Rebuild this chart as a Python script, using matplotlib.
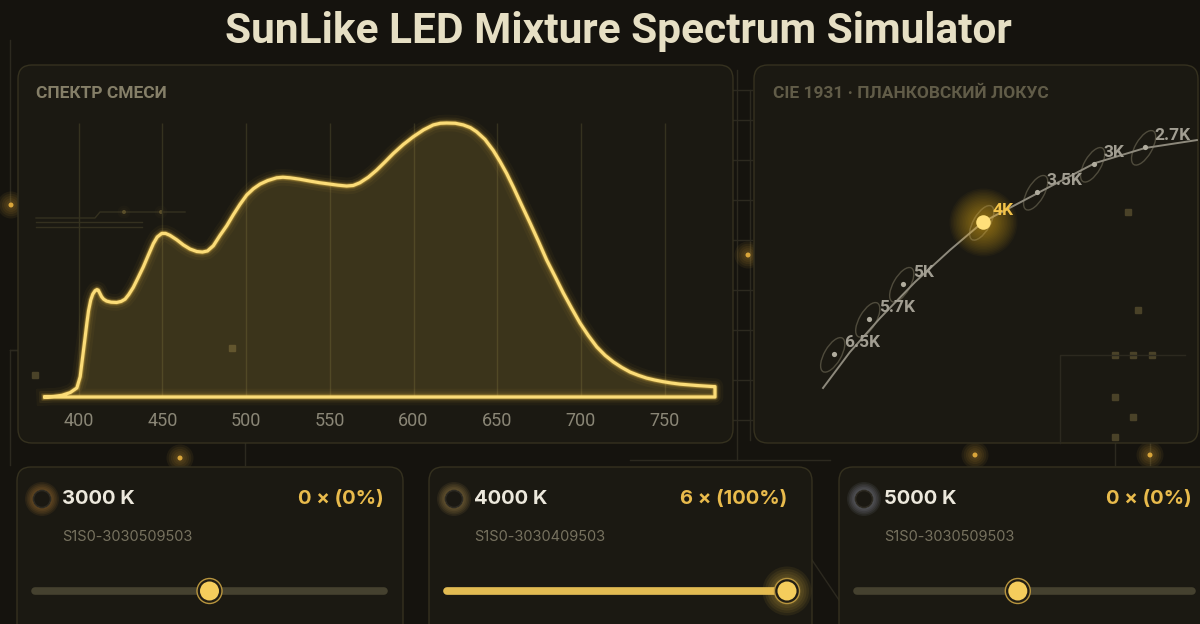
import numpy as np
import matplotlib.pyplot as plt
from matplotlib.patches import FancyBboxPatch, Circle, Ellipse

# mixed spectrum, relative intensity
wavelength = [380, 385, 390, 395, 399, 401, 402.5, 404, 405, 406, 407.3, 408.5, 409.9, 411,
              411.8, 412.8, 413.8, 415, 416.8, 419.5, 422.8, 425.5, 427.8, 430, 432.7, 435.7,
              438.7, 441.7, 444.7, 447, 449.7, 452, 454.6, 458.6, 462.6, 466.6, 470.6, 474,
              477, 480.5, 484.5, 488.5, 492.4, 496.4, 500.4, 504.4, 508.4, 513, 518.3, 522,
              526.3, 532, 538.2, 544, 550.1, 555, 560.1, 564, 568, 573, 578, 583, 588, 594,
              599.9, 606, 611.8, 616, 619.8, 625, 629.7, 634, 637.7, 642.7, 647.6, 651.6,
              655.6, 659.6, 664.6, 669.6, 674.6, 679.5, 684.5, 689.4, 694.4, 699.4, 704.4,
              709.4, 714.4, 719.3, 724.3, 729.3, 734.3, 739.2, 744, 749, 754, 759, 769, 779,
              780]
intensity = [0.0, 0.002, 0.006, 0.016, 0.033, 0.074, 0.147, 0.22, 0.27, 0.315, 0.354, 0.375,
             0.388, 0.392, 0.39, 0.378, 0.366, 0.357, 0.350, 0.346, 0.345, 0.349, 0.357, 0.374,
             0.40, 0.437, 0.475, 0.518, 0.56, 0.584, 0.597, 0.597, 0.59, 0.574, 0.555, 0.54,
             0.531, 0.529, 0.533, 0.552, 0.59, 0.625, 0.665, 0.703, 0.737, 0.76, 0.777, 0.79,
             0.80, 0.802, 0.80, 0.795, 0.788, 0.782, 0.777, 0.773, 0.770, 0.772, 0.782, 0.802,
             0.828, 0.858, 0.889, 0.922, 0.95, 0.975, 0.993, 0.999, 1.0, 0.999, 0.993, 0.983,
             0.968, 0.94, 0.90, 0.86, 0.816, 0.766, 0.70, 0.635, 0.568, 0.50, 0.44, 0.38,
             0.324, 0.27, 0.224, 0.183, 0.152, 0.128, 0.108, 0.091, 0.079, 0.069, 0.062,
             0.056, 0.051, 0.047, 0.042, 0.038, 0.038]
tick_nm = [400, 450, 500, 550, 600, 650, 700, 750]

# planckian locus in CIE 1931 xy
locus_x = [0.3061, 0.3186, 0.3326, 0.3489, 0.3652, 0.3805, 0.4070, 0.4326, 0.4558, 0.4800]
locus_y = [0.2996, 0.3163, 0.3321, 0.3489, 0.3638, 0.3768, 0.3908, 0.4042, 0.4112, 0.4149]
cct_labels = ['6.5K', '5.7K', '5K', '4K', '3.5K', '3K', '2.7K']
cct_x = [0.3112, 0.3275, 0.3433, 0.3805, 0.4056, 0.4321, 0.4558]
cct_y = [0.3154, 0.3317, 0.3480, 0.3768, 0.3908, 0.4038, 0.4117]
active_cct = '4K'

# LED cards
led_names = ['3000 K', '4000 K', '5000 K']
led_parts = ['S1S0-3030509503', 'S1S0-3030409503', 'S1S0-3030509503']
led_counts = [0, 6, 0]
led_share = [0, 100, 0]
slider_pos = [0.5, 1.0, 0.48]
led_glow = ['#c98a3a', '#c9a35a', '#a4aac0']

BG = '#15130e'
PANEL = '#1b1912'
EDGE = '#35311f'
DIM = '#857f68'
LINE = '#2c291f'

plt.rcParams['font.family'] = ['Roboto', 'DejaVu Sans']
UI = ['Inter', 'DejaVu Sans']

fig = plt.figure(figsize=(12, 6.24), dpi=100, facecolor=BG)
W, H = 1200, 624

bg = fig.add_axes([0, 0, 1, 1])
bg.set_xlim(0, W)
bg.set_ylim(H, 0)
bg.axis('off')
bg.set_facecolor(BG)


def panel(x0, y0, x1, y1, r=14):
    bg.add_patch(FancyBboxPatch((x0, y0), x1 - x0, y1 - y0,
                                boxstyle=f'round,pad=0,rounding_size={r}',
                                fc=PANEL, ec=EDGE, lw=1.0, zorder=2))


def glow_dot(x, y, color, r=3, layers=5, step=2.2, a=0.07, zorder=3):
    for i in range(layers, 0, -1):
        bg.add_patch(Circle((x, y), r + i * step, color=color, alpha=a, lw=0, zorder=zorder))
    bg.add_patch(Circle((x, y), r, color=color, lw=0, zorder=zorder))


# circuit decorations behind the panels
for seg in [((10, 10), (40, 205)), ((10, 240), (350, 350)), ((10, 10), (350, 465)),
            ((10, 245), (350, 350)), ((245, 245), (350, 465)),
            ((737, 737), (70, 460)), ((750, 750), (90, 440)),
            ((1115, 1115), (350, 465)), ((1150, 1150), (340, 465)),
            ((630, 830), (460, 460)), ((812, 839), (560, 600))]:
    bg.plot(seg[0], seg[1], color=LINE, lw=1, zorder=1)
for yy in [90, 120, 160, 200, 240, 290, 330, 380, 420]:
    bg.plot([733, 752], [yy, yy], color=LINE, lw=1, zorder=1)
for (x, y) in [(11, 205), (748, 255), (180, 458), (975, 455), (1150, 455)]:
    glow_dot(x, y, '#d9a53a', r=2.5, zorder=1)

# top panels
panel(18, 65, 733, 443)
panel(754, 65, 1198, 443)

bg.text(618, 31, 'SunLike LED Mixture Spectrum Simulator', ha='center', va='center',
        fontsize=30.5, fontweight='bold', color='#e6dfc4', zorder=5)
bg.text(36, 93, 'СПЕКТР СМЕСИ', ha='left', va='center', fontsize=12.5,
        fontweight='bold', color=DIM, zorder=5)
bg.text(773, 93, 'CIE 1931 · ПЛАНКОВСКИЙ ЛОКУС', ha='left', va='center', fontsize=12.5,
        fontweight='bold', color='#615c48', zorder=5)

# decorative details inside the panels
bg.plot([36, 95, 100, 185], [218, 218, 212, 212], color='#34301f', lw=1, zorder=3)
for (x0, x1, y) in [(36, 142, 222), (36, 142, 227)]:
    bg.plot([x0, x1], [y, y], color='#34301f', lw=1, zorder=3)
for (x, y) in [(161, 212), (124, 212)]:
    glow_dot(x, y, '#5a4e2a', r=2, layers=2, zorder=3)
for (x, y) in [(1128, 212), (1138, 310), (1115, 355), (1133, 355), (1152, 355),
               (1115, 397), (1133, 417), (1115, 437), (232, 348), (35, 375)]:
    bg.add_patch(plt.Rectangle((x - 3, y - 3), 6, 6, color='#4a4228', zorder=3))
bg.plot([1060, 1060, 1185], [443, 355, 355], color=LINE, lw=1, zorder=3)

# spectrum axes
ax = fig.add_axes([45 / W, (H - 397) / H, 670 / W, 274 / H])
ax.set_xlim(380, 780)
ax.set_ylim(0, 1)
ax.patch.set_alpha(0)
for s in ax.spines.values():
    s.set_visible(False)
ax.set_yticks([])
ax.set_xticks(tick_nm)
ax.set_xticklabels([str(t) for t in tick_nm])
ax.tick_params(axis='x', length=0, pad=10.5, labelsize=13, labelcolor='#8a8676')
ax.vlines(tick_nm, 0, 1.0, color='#35321f', lw=1, zorder=1)

wl = np.array(wavelength)
it = np.array(intensity)
ax.fill_between(wl, 0, it, color='#e8c24e', alpha=0.16, lw=0, zorder=2)
px = np.concatenate([wl, [780, 380]])
py = np.concatenate([it, [0, 0]])
for lw, a in [(12, 0.04), (8, 0.07), (5, 0.14), (3.5, 0.3)]:
    ax.plot(px, py, color='#f3c445', lw=lw, alpha=a, solid_joinstyle='round',
            clip_on=False, zorder=3)
ax.plot(px, py, color='#fbdc78', lw=2.3, solid_joinstyle='round', clip_on=False, zorder=4)

# CIE axes, 2150 px per unit
cx = fig.add_axes([754 / W, (H - 443) / H, 446 / W, 378 / H])
cx.set_xlim(0.3805 - 229 / 2150, 0.3805 + 217 / 2150)
cx.set_ylim(0.3768 - 221 / 2150, 0.3768 + 157 / 2150)
cx.axis('off')
cx.patch.set_alpha(0)

cx.plot(locus_x, locus_y, color='#8d897c', lw=1.4, zorder=3)
for lab, x, y in zip(cct_labels, cct_x, cct_y):
    cx.add_patch(Ellipse((x - 0.0006, y - 0.0004), 0.0078, 0.0180, angle=-30,
                         fill=False, ec='#4f4b3c', lw=1.0, zorder=2))
    if lab == active_cct:
        for r in np.arange(34, 5, -1.5):
            cx.scatter([x], [y], s=(2 * r / 1.389) ** 2, color='#f5bf2c', alpha=0.035,
                       lw=0, zorder=4)
        cx.scatter([x], [y], s=110, color='#ffe07a', lw=0, zorder=5)
        col = '#f2c34a'
    else:
        cx.scatter([x], [y], s=14, color='#b0ac9e', lw=0, zorder=4)
        col = '#a29e92'
    cx.annotate(lab, (x, y), xytext=(7, 8.5), textcoords='offset points',
                ha='left', va='center', fontsize=12.5, fontweight='bold', color=col, zorder=6)

# LED cards
cards = [(17, 403), (429, 812), (839, 1215)]
text_right = [384, 787, 1192]
for i, (x0, x1) in enumerate(cards):
    panel(x0, 467, x1, 650, r=14)
    right = text_right[i]
    glow_dot(x0 + 25, 499, led_glow[i], r=9, layers=5, step=1.6, a=0.09, zorder=4)
    bg.add_patch(Circle((x0 + 25, 499), 8.5, fc='#1a1812', ec='#2d2a22', lw=1.2, zorder=5))
    bg.text(x0 + 45, 499, led_names[i], ha='left', va='center', fontsize=14.5,
            fontweight='bold', color='#ece8dc', family=UI, zorder=5)
    bg.text(right, 499, f'{led_counts[i]} × ({led_share[i]}%)', ha='right', va='center',
            fontsize=14.5, fontweight='bold', color='#e9bb4c', family=UI, zorder=5)
    bg.text(x0 + 45, 537, led_parts[i], ha='left', va='center', fontsize=10.5,
            color='#77725f', family=UI, zorder=5)
    t0, t1 = x0 + 18, right
    bg.plot([t0, t1], [591, 591], color='#45412f', lw=5.5, solid_capstyle='round', zorder=4)
    tx = t0 + slider_pos[i] * (t1 - t0)
    if slider_pos[i] >= 1:
        bg.plot([t0, tx], [591, 591], color='#e2bb52', lw=5.5, solid_capstyle='round', zorder=4)
        for k in range(5, 0, -1):
            bg.add_patch(Circle((tx, 591), 12 + k * 2.5, color='#f5c84a', alpha=0.07,
                                lw=0, zorder=5))
    bg.add_patch(Circle((tx, 591), 12.5, fc='#221e14', ec='#b8953e', lw=1.0, zorder=6))
    bg.add_patch(Circle((tx, 591), 9.5, fc='#f5cd5c', lw=0, zorder=7))

fig.savefig('out.png', dpi=100, facecolor=BG)
